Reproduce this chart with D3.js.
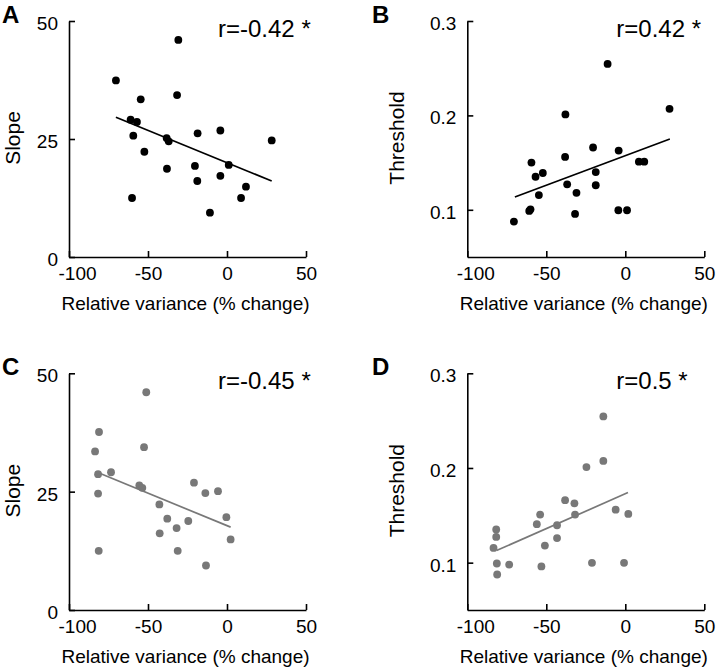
<!DOCTYPE html>
<html>
<head>
<meta charset="utf-8">
<script src="https://cdn.jsdelivr.net/npm/d3@7"></script>
<style>
  body { margin: 0; background: #fff; }
  svg { display: block; font-family: "Liberation Sans", Arial, sans-serif; }
  .axis path, .axis line { stroke: #000; stroke-width: 1.6px; }
  .axis text { font-size: 19px; fill: #000; }
</style>
</head>
<body>
<div id="chart"></div>
<script>
// panel A: slope vs relative variance (black)
var xA = [-70.3, -30.8, -31.6, -54.6, -61.0, -57.0, -59.3, -38.2, -36.9, -52.3, -18.6,
  -4.2, 28.3, -38.0, -20.3, 1.1, -18.8, -4.2, 12.0, 8.9, -60.1, -10.8];
var yA = [37.4, 46.0, 34.3, 33.4, 29.1, 28.6, 25.7, 25.2, 24.5, 22.3, 26.2,
  26.8, 24.7, 18.7, 19.3, 19.5, 16.1, 17.2, 14.9, 12.5, 12.5, 9.4];
var fitA = [[-70.3, 29.6], [28.3, 16.1]];

// panel B: threshold vs relative variance (black)
var xB = [-70.5, -60.8, -60.0, -59.4, -56.8, -52.2, -54.7, -37.9, -38.1, -36.8, -30.9,
  -31.8, -20.4, -18.7, -18.7, -11.2, -4.2, -4.4, 1.1, 8.6, 12.0, 28.0];
var yB = [0.0875, 0.0988, 0.1005, 0.150, 0.135, 0.139, 0.1156, 0.201, 0.156, 0.127, 0.118,
  0.0956, 0.166, 0.140, 0.126, 0.2545, 0.1627, 0.0995, 0.0995, 0.151, 0.151, 0.207];
var fitB = [[-69.9, 0.1135], [28.2, 0.175]];

// panel C: slope vs relative variance (grey)
var xC = [-83.5, -81.0, -81.6, -81.6, -81.2, -73.4, -51.1, -52.5, -55.5, -53.6, -42.8,
  -37.8, -42.6, -31.9, -31.2, -24.5, -20.9, -13.7, -5.7, -0.4, 2.3, -13.3];
var yC = [33.5, 37.6, 28.7, 24.6, 12.5, 29.1, 46.0, 34.4, 26.3, 25.8, 22.3,
  19.3, 16.2, 17.3, 12.5, 18.8, 26.9, 24.7, 25.1, 19.6, 14.9, 9.4];
var fitC = [[-82.9, 29.2], [2.3, 17.5]];

// panel D: threshold vs relative variance (grey)
var xD = [-83.4, -81.7, -81.7, -81.3, -81.1, -73.5, -56.0, -53.9, -50.9, -53.1, -43.2,
  -43.2, -38.1, -32.2, -31.8, -24.6, -21.1, -13.9, -13.9, -6.1, -0.8, 1.9];
var yD = [0.1156, 0.135, 0.1272, 0.0991, 0.0875, 0.098, 0.1406, 0.1508, 0.118, 0.096, 0.1395,
  0.126, 0.166, 0.1627, 0.1508, 0.201, 0.0998, 0.2545, 0.2074, 0.156, 0.0998, 0.1515];
var fitD = [[-81.5, 0.1128], [1.7, 0.174]];

var xTicks = [-100, -50, 0, 50];
var slopeTicks = [0, 25, 50];
var threshTicks = [0.1, 0.2, 0.3];
var rLabels = ['r=-0.42 *', 'r=0.42 *', 'r=-0.45 *', 'r=0.5 *'];
var panelLetters = ['A', 'B', 'C', 'D'];

var width = 720, height = 670;
var svg = d3.select('#chart').append('svg')
  .attr('width', width)
  .attr('height', height);

// plain hyphen for negatives, like the original figure
function plain(d) { return String(d); }
function oneDec(d) { return d.toFixed(1); }

var panels = [
  { xs: xA, ys: yA, fit: fitA, x0: 69, x1: 306, top: 21, bottom: 257, yDomain: [0, 50], yTicks: slopeTicks,
    yFmt: plain, yLabel: 'Slope', yLabelOff: 49, color: '#000', letterX: 2 },
  { xs: xB, ys: yB, fit: fitB, x0: 467.3, x1: 704.3, top: 21, bottom: 257, yDomain: [0.05, 0.3], yTicks: threshTicks,
    yFmt: oneDec, yLabel: 'Threshold', yLabelOff: 63, color: '#000', letterX: 372 },
  { xs: xC, ys: yC, fit: fitC, x0: 69, x1: 306, top: 373.3, bottom: 610, yDomain: [0, 50], yTicks: slopeTicks,
    yFmt: plain, yLabel: 'Slope', yLabelOff: 49, color: '#787878', letterX: 2 },
  { xs: xD, ys: yD, fit: fitD, x0: 467.3, x1: 704.3, top: 373.3, bottom: 610, yDomain: [0.05, 0.3], yTicks: threshTicks,
    yFmt: oneDec, yLabel: 'Threshold', yLabelOff: 63, color: '#787878', letterX: 372 }
];

panels.forEach(function (p, i) {
  var x = d3.scaleLinear().domain([-100, 50]).range([p.x0, p.x1]);
  var y = d3.scaleLinear().domain(p.yDomain).range([p.bottom, p.top]);
  var g = svg.append('g');

  // x axis, ticks pointing inward
  var xAxis = d3.axisBottom(x)
    .tickValues(xTicks)
    .tickFormat(plain)
    .tickSize(-6)
    .tickSizeOuter(0)
    .tickPadding(9.5);
  var gx = g.append('g')
    .attr('class', 'axis')
    .attr('transform', 'translate(0,' + p.bottom + ')')
    .call(xAxis);
  gx.selectAll('.tick text')
    .attr('dx', function (d) { return d === -100 ? 8 : 0; });

  var yAxis = d3.axisLeft(y)
    .tickValues(p.yTicks)
    .tickFormat(p.yFmt)
    .tickSize(-6)
    .tickSizeOuter(0)
    .tickPadding(11);
  var gy = g.append('g')
    .attr('class', 'axis')
    .attr('transform', 'translate(' + p.x0 + ',0)')
    .call(yAxis);
  gy.selectAll('.tick text').attr('dy', '0.45em');

  // axis titles
  g.append('text')
    .attr('x', (p.x0 + p.x1) / 2 - 2)
    .attr('y', p.bottom + 53)
    .attr('text-anchor', 'middle')
    .style('font-size', '19px')
    .text('Relative variance (% change)');

  g.append('text')
    .attr('transform', 'translate(' + (p.x0 - p.yLabelOff) + ',' + ((p.top + p.bottom) / 2 - 1) + ') rotate(-90)')
    .attr('text-anchor', 'middle')
    .style('font-size', '21px')
    .text(p.yLabel);

  // fit line
  g.append('line')
    .attr('x1', x(p.fit[0][0]))
    .attr('y1', y(p.fit[0][1]))
    .attr('x2', x(p.fit[1][0]))
    .attr('y2', y(p.fit[1][1]))
    .attr('stroke', p.color)
    .attr('stroke-width', 1.7);

  // points
  g.selectAll('.dot')
    .data(p.xs.map(function (v, k) { return [v, p.ys[k]]; }))
    .enter().append('circle')
    .attr('class', 'dot')
    .attr('cx', function (d) { return x(d[0]); })
    .attr('cy', function (d) { return y(d[1]); })
    .attr('r', 3.9)
    .attr('fill', p.color);

  // correlation label
  g.append('text')
    .attr('x', p.x0 + 149)
    .attr('y', p.top + 16)
    .style('font-size', '24px')
    .text(rLabels[i]);

  // panel letter
  svg.append('text')
    .attr('x', p.letterX)
    .attr('y', p.top + 2)
    .style('font-size', '24px')
    .style('font-weight', 'bold')
    .text(panelLetters[i]);
});
</script>
</body>
</html>
